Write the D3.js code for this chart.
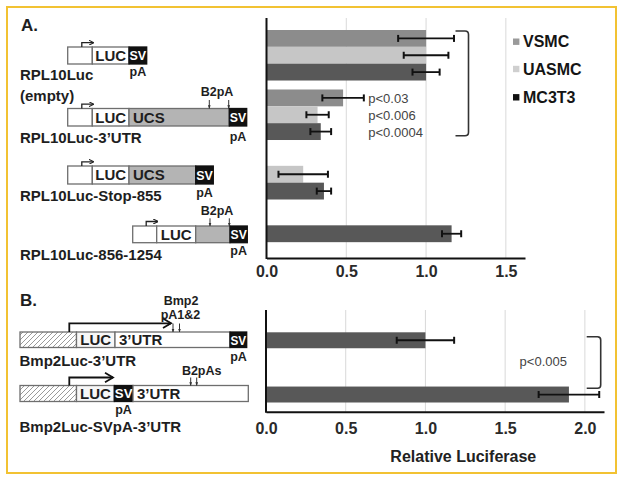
<!DOCTYPE html>
<html><head><meta charset="utf-8">
<script src="https://cdn.jsdelivr.net/npm/d3@7"></script>
<style>
body{margin:0;background:#fff;}
svg{display:block;}
text{font-family:"Liberation Sans",Arial,Helvetica,sans-serif;}
</style>
</head><body>
<svg id="chart" width="624" height="481"></svg>
<script>
// ---------------- DATA ----------------
const seriesA = ["VSMC", "UASMC", "MC3T3"];
const groupsA = [["RPL10Luc", "(empty)"], ["RPL10Luc-3\u2019UTR"], ["RPL10Luc-Stop-855"], ["RPL10Luc-856-1254"]];
const barGroupA  = [0, 0, 0, 1, 1, 1, 2, 2, 3];
const barSlotA   = [0, 1, 2, 0, 1, 2, 1, 2, 1];
const barSeriesA = ["VSMC", "UASMC", "MC3T3", "VSMC", "UASMC", "MC3T3", "UASMC", "MC3T3", "MC3T3"];
const barValueA  = [1.00, 1.00, 1.00, 0.48, 0.32, 0.34, 0.23, 0.36, 1.16];
const barErrorA  = [0.175, 0.14, 0.085, 0.13, 0.07, 0.065, 0.155, 0.045, 0.06];
const ticksA = [0, 0.5, 1.0, 1.5];
const pLabelsA = ["p<0.03", "p<0.006", "p<0.0004"];

const groupsB = ["Bmp2Luc-3\u2019UTR", "Bmp2Luc-SVpA-3\u2019UTR"];
const valuesB = [1.00, 1.90];
const errorsB = [0.18, 0.19];
const ticksB = [0, 0.5, 1.0, 1.5, 2.0];
const pLabelB = "p<0.005";
const axisTitle = "Relative Luciferase";

// ---------------- STYLE ----------------
const seriesColor = {VSMC: "#8c8c8c", UASMC: "#c6c6c6", MC3T3: "#585858"};
const legendColor = {VSMC: "#9a9a9a", UASMC: "#cfcfcf", MC3T3: "#111111"};
const svg = d3.select("#chart");

// frame
svg.append("rect").attr("x", 7).attr("y", 7).attr("width", 609).attr("height", 466)
  .attr("fill", "none").attr("stroke", "#f2c232").attr("stroke-width", 2);

// hatch pattern
const defs = svg.append("defs");
const pat = defs.append("pattern").attr("id", "hatch").attr("patternUnits", "userSpaceOnUse")
  .attr("width", 5).attr("height", 5);
pat.append("rect").attr("width", 5).attr("height", 5).attr("fill", "#fff");
pat.append("path").attr("d", "M0,5 L5,0 M-1,1 L1,-1 M4,6 L6,4").attr("stroke", "#9a9a9a").attr("stroke-width", 1);
// arrow markers
defs.append("marker").attr("id", "headS").attr("viewBox", "0 0 10 10").attr("refX", 9).attr("refY", 5)
  .attr("markerWidth", 4).attr("markerHeight", 4).attr("orient", "auto")
  .append("path").attr("d", "M0,0 L10,5 L0,10").attr("fill", "none").attr("stroke", "#222").attr("stroke-width", 2);
defs.append("marker").attr("id", "headL").attr("viewBox", "0 0 10 10").attr("refX", 9).attr("refY", 5)
  .attr("markerWidth", 5).attr("markerHeight", 5).attr("orient", "auto").attr("markerUnits", "userSpaceOnUse")
  .append("path").attr("d", "M0,0 L10,5 L0,10").attr("fill", "none").attr("stroke", "#111").attr("stroke-width", 1.6);
defs.append("marker").attr("id", "headD").attr("viewBox", "0 0 10 10").attr("refX", 9).attr("refY", 5)
  .attr("markerWidth", 3.5).attr("markerHeight", 3.5).attr("orient", "auto")
  .append("path").attr("d", "M0,1 L10,5 L0,9 Z").attr("fill", "#333");

// ---------------- PANEL A CHART ----------------
const xA = d3.scaleLinear().domain([0, 1.62]).range([266.5, 525]);
const yGroupA = d3.scaleBand().domain(d3.range(groupsA.length)).range([30, 259]).paddingInner(0.151).paddingOuter(0);
const ySlotA = d3.scaleBand().domain([0, 1, 2]).range([0, yGroupA.bandwidth()]).padding(0);
const topA = 18, botA = 258;

const gA = svg.append("g");
gA.selectAll("line.grid").data(ticksA.filter(d => d > 0)).join("line")
  .attr("x1", d => xA(d)).attr("x2", d => xA(d)).attr("y1", topA).attr("y2", botA)
  .attr("stroke", "#d9d9d9").attr("stroke-width", 1);

const barsA = barValueA.map((v, i) => ({v, e: barErrorA[i], g: barGroupA[i], s: barSlotA[i], ser: barSeriesA[i]}));
gA.selectAll("rect.bar").data(barsA).join("rect")
  .attr("x", xA(0)).attr("width", d => xA(d.v) - xA(0))
  .attr("y", d => yGroupA(d.g) + ySlotA(d.s)).attr("height", ySlotA.bandwidth())
  .attr("fill", d => seriesColor[d.ser]);

function errorBars(g, data, x, yc) {
  const eb = g.selectAll("g.eb").data(data).join("g").attr("stroke", "#111");
  eb.append("line").attr("x1", d => x(d.v - d.e)).attr("x2", d => x(d.v + d.e))
    .attr("y1", yc).attr("y2", yc).attr("stroke-width", 1.8);
  eb.append("line").attr("x1", d => x(d.v - d.e)).attr("x2", d => x(d.v - d.e))
    .attr("y1", d => yc(d) - 3.5).attr("y2", d => yc(d) + 3.5).attr("stroke-width", 2);
  eb.append("line").attr("x1", d => x(d.v + d.e)).attr("x2", d => x(d.v + d.e))
    .attr("y1", d => yc(d) - 3.5).attr("y2", d => yc(d) + 3.5).attr("stroke-width", 2);
}
errorBars(gA, barsA, xA, d => yGroupA(d.g) + ySlotA(d.s) + ySlotA.bandwidth() / 2);

// axes A
gA.append("line").attr("x1", xA(0)).attr("x2", xA(0)).attr("y1", topA).attr("y2", botA + 1)
  .attr("stroke", "#111").attr("stroke-width", 2);
const axA = gA.append("g").attr("transform", `translate(0,${botA})`)
  .call(d3.axisBottom(xA).tickValues(ticksA).tickFormat(d3.format(".1f")).tickSize(0).tickSizeOuter(0).tickPadding(8));
axA.select(".domain").attr("stroke", "#111").attr("stroke-width", 2);
axA.selectAll("text").attr("font-size", 16).attr("font-weight", "bold").attr("fill", "#2a2a2a")
  .style("font-family", "'Liberation Sans',Arial,sans-serif");

// legend
const leg = svg.append("g");
seriesA.forEach((s, i) => {
  const yc = [41.7, 69, 97.3][i];
  leg.append("rect").attr("x", 513).attr("y", yc - 3.2).attr("width", 6.4).attr("height", 6.4).attr("fill", legendColor[s]);
  leg.append("text").attr("x", 523).attr("y", yc + 5.7).attr("font-size", 16).attr("font-weight", "bold")
    .attr("fill", "#151515").text(s);
});

// bracket A + p-values
svg.append("path").attr("d", "M455.5,31 L465,31 Q468.5,31 468.5,34.5 L468.5,132.2 Q468.5,135.7 465,135.7 L455.5,135.7")
  .attr("fill", "none").attr("stroke", "#333").attr("stroke-width", 1.6);
pLabelsA.forEach((t, i) => {
  const yc = yGroupA(1) + ySlotA(i) + ySlotA.bandwidth() / 2 + 0.5;
  svg.append("text").attr("x", 368.3).attr("y", yc + 4.6).attr("font-size", 13).attr("fill", "#444").text(t);
});

// ---------------- PANEL B CHART ----------------
const xB = d3.scaleLinear().domain([0, 2.12]).range([266, 604]);
const yB = d3.scaleBand().domain(d3.range(groupsB.length)).range([332.3, 402.5]).paddingInner(0.706).paddingOuter(0);
const topB = 310, botB = 411.7;
const gB = svg.append("g");
gB.selectAll("line.grid").data(ticksB.filter(d => d > 0)).join("line")
  .attr("x1", d => xB(d)).attr("x2", d => xB(d)).attr("y1", topB).attr("y2", botB)
  .attr("stroke", "#d9d9d9").attr("stroke-width", 1);
const barsB = valuesB.map((v, i) => ({v, e: errorsB[i], g: i}));
gB.selectAll("rect.bar").data(barsB).join("rect")
  .attr("x", xB(0)).attr("width", d => xB(d.v) - xB(0))
  .attr("y", d => yB(d.g)).attr("height", yB.bandwidth()).attr("fill", seriesColor.MC3T3);
errorBars(gB, barsB, xB, d => yB(d.g) + yB.bandwidth() / 2);
gB.append("line").attr("x1", xB(0)).attr("x2", xB(0)).attr("y1", topB).attr("y2", botB + 1)
  .attr("stroke", "#111").attr("stroke-width", 2);
const axB = gB.append("g").attr("transform", `translate(0,${botB})`)
  .call(d3.axisBottom(xB).tickValues(ticksB).tickFormat(d3.format(".1f")).tickSize(0).tickSizeOuter(0).tickPadding(11));
axB.select(".domain").attr("stroke", "#111").attr("stroke-width", 2);
axB.selectAll("text").attr("font-size", 16).attr("font-weight", "bold").attr("fill", "#2a2a2a")
  .style("font-family", "'Liberation Sans',Arial,sans-serif");
svg.append("text").attr("x", 463.3).attr("y", 461.5).attr("text-anchor", "middle")
  .attr("font-size", 16).attr("font-weight", "bold").attr("fill", "#222").text(axisTitle);
svg.append("path").attr("d", "M586.7,336.7 L597.5,336.7 Q600.7,336.7 600.7,340 L600.7,385 Q600.7,388.3 597.5,388.3 L586.7,388.3")
  .attr("fill", "none").attr("stroke", "#333").attr("stroke-width", 1.6);
svg.append("text").attr("x", 543.3).attr("y", 366.3).attr("text-anchor", "middle")
  .attr("font-size", 13).attr("fill", "#444").text(pLabelB);

// ---------------- CONSTRUCT DIAGRAMS ----------------
const D = svg.append("g");
function txt(x, y, s, size, opts = {}) {
  return D.append("text").attr("x", x).attr("y", y).attr("font-size", size)
    .attr("font-weight", opts.w || "bold").attr("fill", opts.c || "#1e1e1e")
    .attr("text-anchor", opts.a || "start").text(s);
}
const fills = {w: "#ffffff", g: "#b4b4b4", k: "#111111", h: "url(#hatch)", l: "#f7f7f7"};
function construct(y0, y1, segs) {
  segs.forEach(([a, b, f, label]) => {
    D.append("rect").attr("x", a).attr("y", y0).attr("width", b - a).attr("height", y1 - y0)
      .attr("fill", fills[f]).attr("stroke", f === "k" ? "#111" : "#6e6e6e").attr("stroke-width", 1.3);
    if (label) {
      const mid = (y0 + y1) / 2;
      if (f === "k") txt((a + b) / 2, mid + 4.8, label, 13.5, {c: "#fff", a: "middle"}).attr("textLength", b - a - 1).attr("lengthAdjust", "spacingAndGlyphs");
      else if (label === "LUC") txt((a + b) / 2, mid + 5.4, label, 15, {a: "middle"});
      else txt(a + 4, mid + 5.4, label, 15);
    }
  });
}
function promoterA(xEnd, yTop, y0) {
  D.append("path").attr("d", `M${xEnd - 10.5},${y0} L${xEnd - 10.5},${yTop} L${xEnd + 1},${yTop}`)
    .attr("fill", "none").attr("stroke", "#222").attr("stroke-width", 1.3).attr("marker-end", "url(#headS)");
}
function downArrows(xs, yA, yB2) {
  xs.forEach(x => D.append("line").attr("x1", x).attr("x2", x).attr("y1", yA).attr("y2", yB2)
    .attr("stroke", "#333").attr("stroke-width", 1).attr("marker-end", "url(#headD)"));
}

// Panel labels
txt(21, 31, "A.", 17);
txt(20, 305.5, "B.", 17);

// A1
construct(47, 64, [[67.7, 92.3, "w", ""], [92.3, 129, "w", "LUC"], [129, 146.7, "k", "SV"]]);
promoterA(92.3, 42.7, 47);
txt(137.9, 76, "pA", 12.5, {a: "middle"});
txt(20, 79.5, groupsA[0][0], 15);
txt(20, 100.5, groupsA[0][1], 15);

// A2
construct(108.5, 126, [[67.7, 92.3, "w", ""], [92.3, 129, "w", "LUC"], [129, 229.3, "g", "UCS"], [229.3, 246.7, "k", "SV"]]);
promoterA(92.3, 104.2, 108.5);
txt(217, 96, "B2pA", 12.5, {a: "middle"});
downArrows([209.3, 228.7], 100, 108.5);
txt(238, 141, "pA", 12.5, {a: "middle"});
txt(20, 142.8, groupsA[1][0], 15);

// A3
construct(166, 184, [[67.7, 92.3, "w", ""], [92.3, 129, "w", "LUC"], [129, 195.7, "g", "UCS"], [195.7, 213.3, "k", "SV"]]);
promoterA(92.3, 161.8, 166);
txt(204.5, 197, "pA", 12.5, {a: "middle"});
txt(20, 201.2, groupsA[2][0], 15);

// A4
construct(226, 242.7, [[132.7, 156.7, "w", ""], [156.7, 195.7, "w", "LUC"], [195.7, 230, "g", ""], [230, 247.3, "k", "SV"]]);
promoterA(156.7, 221.5, 226);
txt(217, 215, "B2pA", 12.5, {a: "middle"});
downArrows([210, 229.3], 218.3, 226);
txt(238.7, 255, "pA", 12.5, {a: "middle"});
txt(20, 259.8, groupsA[3][0], 15);

// B1
construct(332, 347.5, [[20, 76.5, "h", ""], [76.5, 115, "l", "LUC"], [115, 230, "w", "3\u2019UTR"], [230, 246.7, "k", "SV"]]);
D.append("path").attr("d", "M69.3,332 L69.3,323.3 L171,323.3").attr("fill", "none").attr("stroke", "#111")
  .attr("stroke-width", 1.8).attr("marker-end", "url(#headL)");
D.append("path").attr("d", "M163,318.5 L171,323.3 L163,328").attr("fill", "none").attr("stroke", "#111").attr("stroke-width", 1.8);
txt(181, 304.5, "Bmp2", 12.5, {a: "middle"});
txt(180.5, 318.5, "pA1&2", 12.5, {a: "middle"});
downArrows([173, 179.5], 323.5, 332);
txt(238.5, 360.5, "pA", 12.5, {a: "middle"});
txt(19.5, 366, groupsB[0], 15);

// B2
construct(385.5, 401.5, [[20, 76.5, "h", ""], [76.5, 114.3, "l", "LUC"], [114.3, 133, "k", "SV"], [133, 248.3, "w", "3\u2019UTR"]]);
D.append("path").attr("d", "M69.3,385.5 L69.3,377.5 L113,377.5").attr("fill", "none").attr("stroke", "#111").attr("stroke-width", 1.8);
D.append("path").attr("d", "M105,372.7 L113,377.5 L105,382.2").attr("fill", "none").attr("stroke", "#111").attr("stroke-width", 1.8);
txt(201.7, 374.5, "B2pAs", 12.5, {a: "middle"});
downArrows([190.7, 196.7], 377.5, 385.5);
txt(123.5, 413.5, "pA", 12.5, {a: "middle"});
txt(19.5, 432, groupsB[1], 15);
</script>
</body></html>
